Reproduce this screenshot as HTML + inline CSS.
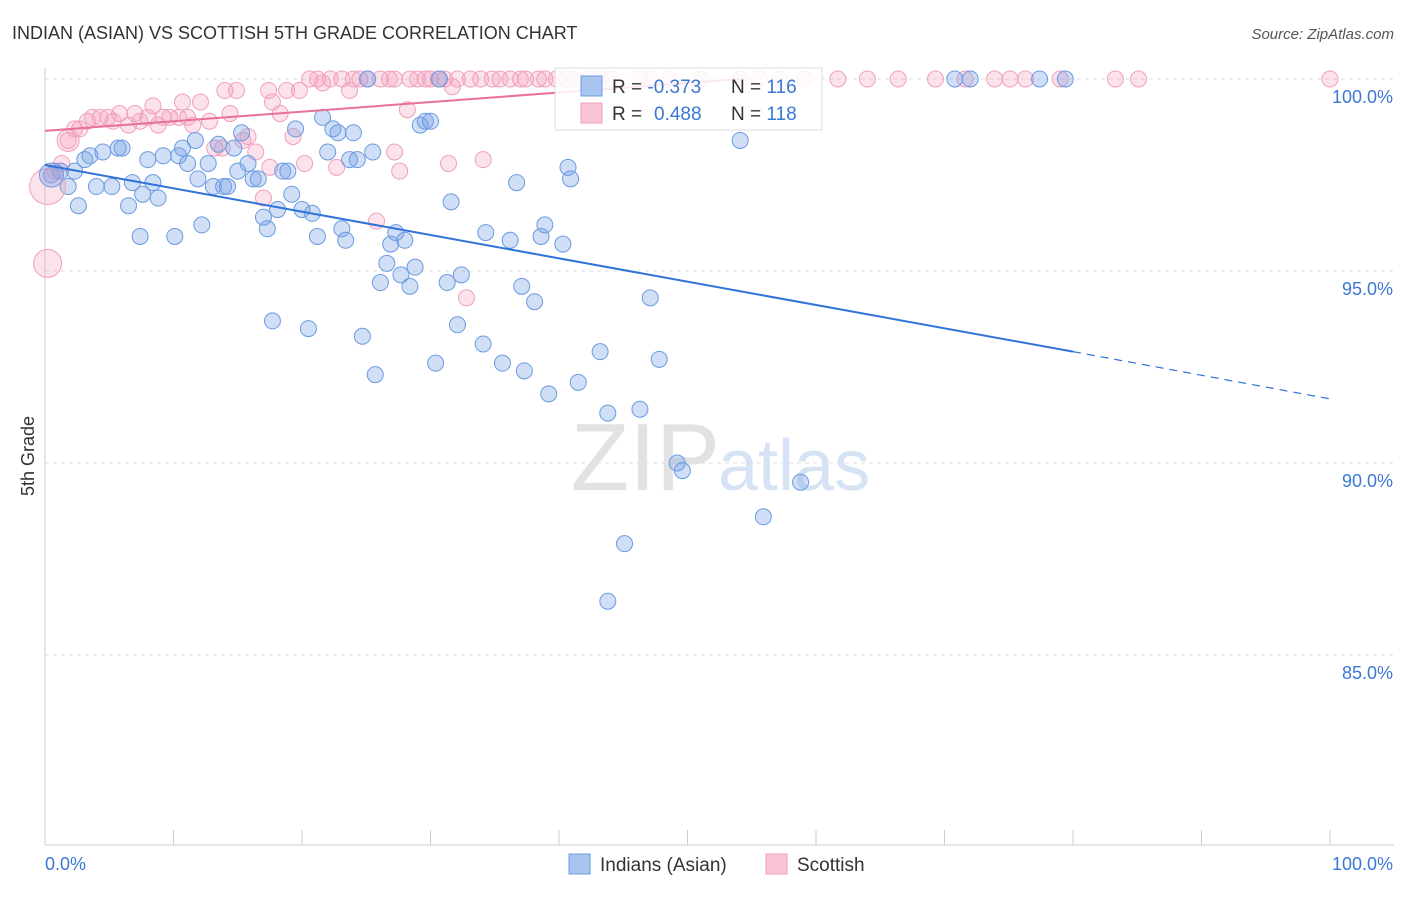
<!DOCTYPE html>
<html><head><meta charset="utf-8"><style>
body{margin:0;background:#fff;font-family:"Liberation Sans",sans-serif;}
svg text{font-family:"Liberation Sans",sans-serif;}
</style></head><body>
<svg id="chart" width="1406" height="892" xmlns="http://www.w3.org/2000/svg">
<text x="12" y="39" font-size="18" fill="#333">INDIAN (ASIAN) VS SCOTTISH 5TH GRADE CORRELATION CHART</text>
<text x="1394" y="39" font-size="15" fill="#555" text-anchor="end" font-style="italic">Source: ZipAtlas.com</text>
<text x="34" y="456" font-size="18" fill="#333" transform="rotate(-90 34 456)" text-anchor="middle">5th Grade</text>
<g id="grid"></g>
<text x="720" y="490" font-size="96" fill="#e2e2e2" text-anchor="end" font-family="Liberation Serif">ZIP</text>
<text x="718" y="490" font-size="72" fill="#d6e3f5">atlas</text>
<g id="pts"></g>
<g id="lines"></g>
<g>
<rect x="555" y="68" width="267" height="62" fill="#fff" fill-opacity="0.85" stroke="#ddd"/>
<rect x="581" y="76" width="21" height="20" fill="#aac4f0" stroke="#6a9be0"/>
<rect x="581" y="103" width="21" height="20" fill="#f9c4d4" stroke="#f0a0bb"/>
<text x="612" y="93" font-size="19" fill="#333">R = <tspan fill="#3a78d6">-0.373</tspan></text>
<text x="731" y="93" font-size="19" fill="#333">N = <tspan fill="#3a78d6">116</tspan></text>
<text x="612" y="120" font-size="19" fill="#333">R = <tspan fill="#3a78d6" x="654">0.488</tspan></text>
<text x="731" y="120" font-size="19" fill="#333">N = <tspan fill="#3a78d6">118</tspan></text>
</g>
<g>
<rect x="569" y="854" width="21" height="20" fill="#aac4f0" stroke="#6a9be0"/>
<text x="600" y="871" font-size="19" fill="#333">Indians (Asian)</text>
<rect x="766" y="854" width="21" height="20" fill="#f9c4d4" stroke="#f0a0bb"/>
<text x="797" y="871" font-size="19" fill="#333">Scottish</text>
</g>
</svg>
<script>
const blueX=[0.5,1.2,1.8,2.3,2.6,3.1,3.5,4.0,4.5,5.2,5.7,6.0,6.5,6.8,7.4,7.6,8.0,8.4,8.8,9.2,10.1,10.4,10.7,11.1,11.7,11.9,12.2,12.7,13.1,13.5,13.9,14.2,14.7,15.0,15.3,15.8,16.2,16.6,17.0,17.3,17.7,18.1,18.5,18.9,19.2,19.5,20.0,20.5,20.8,21.2,21.6,22.0,22.4,22.8,23.1,23.4,23.7,24.0,24.3,24.7,25.1,25.5,25.7,26.1,26.6,26.9,27.3,27.7,28.0,28.4,28.8,29.2,29.6,30.0,30.7,30.4,31.3,31.6,32.1,32.4,34.1,34.3,35.6,36.2,36.7,37.1,37.3,38.1,38.6,38.9,39.2,40.3,40.7,40.9,41.5,43.2,43.8,45.1,43.8,46.3,47.1,47.8,49.2,49.6,54.1,55.9,58.8,70.8,72.0,77.4,79.4];
const blueY=[97.5,97.6,97.2,97.6,96.7,97.9,98.0,97.2,98.1,97.2,98.2,98.2,96.7,97.3,95.9,97.0,97.9,97.3,96.9,98.0,95.9,98.0,98.2,97.8,98.4,97.4,96.2,97.8,97.2,98.3,97.2,97.2,98.2,97.6,98.6,97.8,97.4,97.4,96.4,96.1,93.7,96.6,97.6,97.6,97.0,98.7,96.6,93.5,96.5,95.9,99.0,98.1,98.7,98.6,96.1,95.8,97.9,98.6,97.9,93.3,100,98.1,92.3,94.7,95.2,95.7,96.0,94.9,95.8,94.6,95.1,98.8,98.9,98.9,100,92.6,94.7,96.8,93.6,94.9,93.1,96.0,92.6,95.8,97.3,94.6,92.4,94.2,95.9,96.2,91.8,95.7,97.7,97.4,92.1,92.9,91.3,87.9,86.4,91.4,94.3,92.7,90.0,89.8,98.4,88.6,89.5,100,100,100,100];
const pinkX=[0.8,1.3,1.8,2.3,2.7,3.3,3.7,4.3,4.9,5.3,5.8,6.5,7.0,7.4,8.0,8.4,8.8,9.2,9.7,10.4,10.7,11.1,11.5,12.1,12.8,13.2,13.8,14.0,14.4,14.9,15.4,15.8,16.4,17.0,17.4,17.5,17.7,18.3,18.8,19.3,19.8,20.2,20.6,21.2,21.6,22.2,22.7,23.1,23.7,24.0,24.5,25.1,25.8,26.1,26.8,27.2,27.2,27.6,28.2,28.4,29.0,29.6,30.0,30.6,31.1,31.4,31.7,32.1,32.8,33.1,33.9,34.1,34.8,35.4,36.2,37.0,37.4,38.4,38.9,39.8,40.6,41.2,42.4,43.2,44.1,46.3,47.1,48.6,51.0,54.1,55.6,57.2,59.1,61.7,64.0,66.4,69.3,71.6,73.9,75.1,76.3,79.0,83.3,85.1,100];
const pinkY=[97.6,97.8,98.4,98.7,98.7,98.9,99.0,99.0,99.0,98.9,99.1,98.8,99.1,98.9,99.0,99.3,98.8,99.0,99.0,99.0,99.4,99.0,98.8,99.4,98.9,98.2,98.2,99.7,99.1,99.7,98.4,98.5,98.1,96.9,99.7,97.7,99.4,99.1,99.7,98.5,99.7,97.8,100,100,99.9,100,97.7,100,99.7,100,100,100,96.3,100,100,98.1,100,97.6,99.2,100,100,100,100,100,100,97.8,99.8,100,94.3,100,100,97.9,100,100,100,100,100,100,100,100,100,100,100,100,100,100,100,100,100,100,100,100,100,100,100,100,100,100,100,100,100,100,100,100,100];
const bigX=[0.2,0.2,0.5,1.8];
const bigY=[97.2,95.2,97.5,98.4];
const bigR=[18,14,12,11];
const bigSeries=['pink','pink','blue','pink'];
const blueLine=[[0,97.76],[80,92.9],[100,91.67]];
const pinkLine=[[0,98.65],[54.1,100]];
const yTicks=[100,95,90,85];
const xTickLabels=['0.0%','100.0%'];

const sx=v=>45+v*12.85;
const sy=v=>79+(100-v)*38.4;
const NS='http://www.w3.org/2000/svg';
function mk(t,a,p){const e=document.createElementNS(NS,t);for(const k in a)e.setAttribute(k,a[k]);p.appendChild(e);return e;}
const grid=document.getElementById('grid');
mk('line',{x1:45,y1:68,x2:45,y2:845,stroke:'#ccc'},grid);
mk('line',{x1:45,y1:845,x2:1394,y2:845,stroke:'#ccc'},grid);
for(let i=0;i<=10;i++){const l=mk('line',{x1:sx(i*10),y1:830,x2:sx(i*10),y2:845,stroke:'#ccc'},grid);

}
yTicks.forEach(v=>{const l=mk('line',{x1:45,y1:sy(v),x2:1394,y2:sy(v),stroke:'#ddd','stroke-dasharray':'4,4'},grid);


const t=mk('text',{x:1393,y:sy(v)+24,'font-size':18,fill:'#3a78d6','text-anchor':'end'},grid);t.textContent=v.toFixed(1)+'%';

});
const t0=mk('text',{x:45,y:870,'font-size':18,fill:'#3a78d6'},grid);t0.textContent=xTickLabels[0];


const t1=mk('text',{x:1393,y:870,'font-size':18,fill:'#3a78d6','text-anchor':'end'},grid);t1.textContent=xTickLabels[1];


const pts=document.getElementById('pts');
const style={blue:{fill:'rgba(120,160,230,0.35)',stroke:'#6a9be0'},pink:{fill:'rgba(244,160,188,0.3)',stroke:'#f0a0bb'}};
pinkX.forEach((x,i)=>{const c=mk('circle',{cx:sx(x),cy:sy(pinkY[i]),r:8,fill:style.pink.fill,stroke:style.pink.stroke},pts);

});
blueX.forEach((x,i)=>{const c=mk('circle',{cx:sx(x),cy:sy(blueY[i]),r:8,fill:style.blue.fill,stroke:style.blue.stroke},pts);

});
bigX.forEach((x,i)=>{const s=style[bigSeries[i]];const c=mk('circle',{cx:sx(x),cy:sy(bigY[i]),r:bigR[i],fill:s.fill,stroke:s.stroke},pts);

});
const lines=document.getElementById('lines');
const b1=mk('line',{x1:sx(blueLine[0][0]),y1:sy(blueLine[0][1]),x2:sx(blueLine[1][0]),y2:sy(blueLine[1][1]),stroke:'#2f72d8','stroke-width':2},lines);


const b2=mk('line',{x1:sx(blueLine[1][0]),y1:sy(blueLine[1][1]),x2:sx(blueLine[2][0]),y2:sy(blueLine[2][1]),stroke:'#2f72d8','stroke-width':1.2,'stroke-dasharray':'8,6'},lines);


const p1=mk('line',{x1:sx(pinkLine[0][0]),y1:sy(pinkLine[0][1]),x2:sx(pinkLine[1][0]),y2:sy(pinkLine[1][1]),stroke:'#e8709a','stroke-width':2},lines);


</script>
</body></html>
